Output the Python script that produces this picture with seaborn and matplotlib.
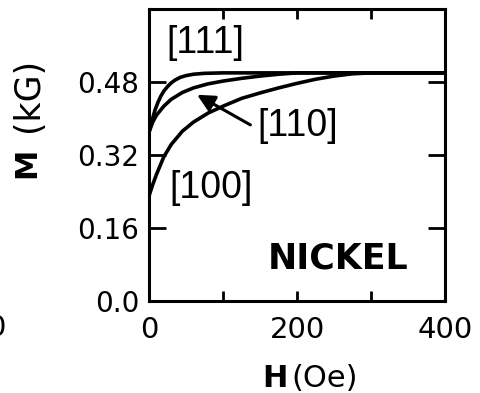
import matplotlib
matplotlib.use("Agg")
import matplotlib.pyplot as plt
import seaborn as sns
import pandas as pd

# Magnetization curves of nickel along the three principal crystal axes
field_111 = [0, 4, 8, 12, 16, 20, 25, 30, 35, 42, 50, 60, 75, 100, 400]
moment_111 = [0.37, 0.395, 0.418, 0.435, 0.449, 0.460, 0.470, 0.478, 0.484, 0.490, 0.494, 0.497, 0.499, 0.50, 0.50]

field_110 = [0, 5, 10, 20, 30, 45, 60, 80, 100, 125, 150, 175, 200, 400]
moment_110 = [0.37, 0.392, 0.407, 0.427, 0.442, 0.457, 0.467, 0.476, 0.482, 0.488, 0.493, 0.497, 0.50, 0.50]

field_100 = [0, 5, 10, 20, 30, 45, 60, 80, 100, 125, 150, 175, 200, 225, 250, 275, 300, 400]
moment_100 = [0.23, 0.255, 0.277, 0.316, 0.343, 0.372, 0.392, 0.412, 0.427, 0.444, 0.456, 0.467, 0.477, 0.486, 0.493, 0.498, 0.50, 0.50]

direction_labels = ["[111]", "[110]", "[100]"]
x_ticks = [0, 100, 200, 300, 400]
x_tick_labels = ["0", "", "200", "", "400"]
y_ticks = [0.0, 0.16, 0.32, 0.48]
y_tick_labels = ["0.0", "0.16", "0.32", "0.48"]

curves = pd.concat([
    pd.DataFrame({"H": field_111, "M": moment_111, "axis": direction_labels[0]}),
    pd.DataFrame({"H": field_110, "M": moment_110, "axis": direction_labels[1]}),
    pd.DataFrame({"H": field_100, "M": moment_100, "axis": direction_labels[2]}),
])

sns.set_style("ticks")
plt.rcParams["font.family"] = ["DejaVu Sans"]
plt.rcParams["text.color"] = "black"
plt.rcParams["axes.labelcolor"] = "black"
plt.rcParams["xtick.color"] = "black"
plt.rcParams["ytick.color"] = "black"
plt.rcParams["xtick.labelcolor"] = "black"
plt.rcParams["ytick.labelcolor"] = "black"

fig = plt.figure(figsize=(4.81, 3.93), dpi=100)
ax = fig.add_axes([149 / 481, 92 / 393, 296 / 481, 292 / 393])

sns.lineplot(data=curves, x="H", y="M", hue="axis",
             palette=["black"] * 3, linewidth=2.6, legend=False,
             sort=False, estimator=None, ax=ax)

ax.set_xlim(0, 400)
ax.set_ylim(0, 0.64)
ax.set_xticks(x_ticks)
ax.set_xticklabels(x_tick_labels, fontsize=21)
ax.set_yticks(y_ticks)
ax.set_yticklabels(y_tick_labels, fontsize=20)
ax.set_xlabel("")
ax.set_ylabel("")

for side in ax.spines.values():
    side.set_linewidth(2.2)
    side.set_color("black")
    side.set_visible(True)

ax.tick_params(axis="x", direction="in", length=7, width=2,
               top=True, bottom=True, pad=11, colors="black")
ax.tick_params(axis="y", direction="in", length=12.5, width=2,
               left=True, right=True, pad=7, colors="black")

# Crystal-direction labels and the pointer to the [110] curve
bracket_font = dict(family="Liberation Sans", fontsize=27, ha="center",
                    va="center", color="black")
ax.text(76, 0.566, direction_labels[0], **bracket_font)
ax.text(201, 0.384, direction_labels[1], **bracket_font)
ax.text(84, 0.248, direction_labels[2], **bracket_font)
ax.annotate("", xy=(65, 0.452), xytext=(137, 0.386),
            arrowprops=dict(arrowstyle="-|>", lw=2.2, color="black",
                            mutation_scale=26, shrinkA=0, shrinkB=0))

ax.text(255, 0.094, "NICKEL", fontsize=25, fontweight="bold",
        ha="center", va="center", color="black")

# Axis titles: bold quantity symbol followed by the unit
fig.text(262 / 481, 6 / 393, "H", fontsize=22, fontweight="bold",
         ha="left", va="baseline", color="black")
fig.text(291 / 481, 6 / 393, "(Oe)", fontsize=22, ha="left", va="baseline",
         color="black")
fig.text(41 / 481, (393 - 178) / 393, "M", fontsize=22, fontweight="bold",
         rotation=90, ha="right", va="bottom", color="black")
fig.text(45 / 481, (393 - 132) / 393, "(kG)", fontsize=25,
         rotation=90, ha="right", va="bottom", color="black")

# Edge of the neighbouring panel's tick label
fig.text(-4 / 481, (393 - 328) / 393, "0", fontsize=21, ha="center",
         va="center", color="black")

fig.savefig("out.png", dpi=100, facecolor="white")
